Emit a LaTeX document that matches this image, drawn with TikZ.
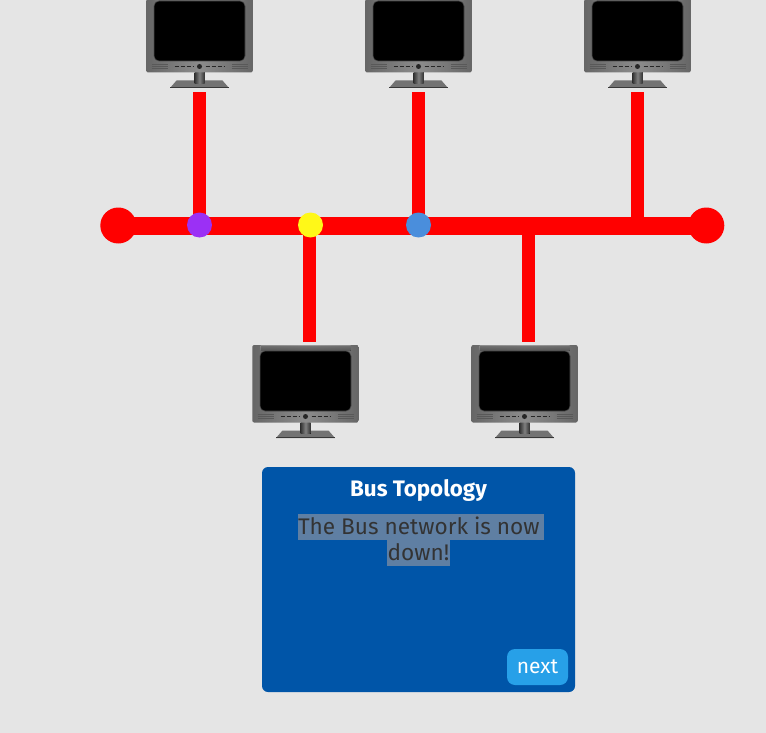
\documentclass[tikz,border=0pt]{standalone}
\usepackage{fontspec}
\setmainfont{Fira Sans}
\usetikzlibrary{positioning}
\definecolor{pagegrey}{HTML}{E5E5E5}
\definecolor{panelblue}{HTML}{0055A8}
\definecolor{nextblue}{HTML}{27A0E8}
\definecolor{marktext}{HTML}{5F7FA3}
\definecolor{darktext}{HTML}{333333}
\definecolor{stationpurple}{HTML}{9B30F5}
\definecolor{stationyellow}{HTML}{FFF818}
\definecolor{stationblue}{HTML}{4A8EDC}
\tikzset{
  wire/.style={draw=red,line width=13pt},
  trunk/.style={draw=red,line width=18pt},
  busend/.style={circle,fill=red,minimum size=36pt,inner sep=0pt},
  station/.style={circle,minimum size=25pt,inner sep=0pt},
  marked/.style={fill=marktext,text=darktext,inner ysep=0pt,inner xsep=0pt,minimum height=26pt,text height=20pt,text depth=6pt,font=\fontsize{22.6}{26}\selectfont},
  monitor/.pic={
    \fill[black!55] (-29.5,15.5) -- (-23,8) -- (23,8) -- (29.5,15.5) -- cycle;
    \fill[black!78] (-29.5,14.5) rectangle (29.5,15.5);
    \fill[left color=black!80,right color=black!80,middle color=black!50] (-5,0) rectangle (5,11);
    \node (-case) at (0,-38.75) [rounded corners=2pt,minimum width=106.5pt,minimum height=77.5pt,inner sep=0pt,
      left color=black!60,right color=black!60,middle color=black!45] {};
    \fill[top color=black!38,bottom color=black!55,opacity=.6] (-45,-77) rectangle (45,-72);
    \node (-screen) at (0,-41.5) [rounded corners=5pt,minimum width=91pt,minimum height=60pt,inner sep=0pt,fill=black,draw=black!70,line width=.6pt] {};
    \draw[black!85,line width=1.6pt,dash pattern=on 4.5pt off 1.5pt] (-25,-6) -- (-6,-6) (6,-6) -- (25,-6);
    \fill[black!85] (0,-6) circle (2.5pt);
    \draw[black!65,line width=.5pt] (-48,-8) -- (-32,-8) (-48,-6) -- (-32,-6) (-48,-4) -- (-32,-4) (32,-8) -- (48,-8) (32,-6) -- (48,-6) (32,-4) -- (48,-4);
    \coordinate (-foot) at (0,19.5);
    \coordinate (-head) at (0,-80.5);
  }
}
\begin{document}
\begin{tikzpicture}[x=1pt,y=-1pt]
\useasboundingbox (0,0) rectangle (766,733);
\clip (0,0) rectangle (766,733);
\fill[pagegrey] (0,0) rectangle (766,733);

% monitors
\pic (mon1) at (199.5,72.5) {monitor};
\pic (mon2) at (418.5,72.5) {monitor};
\pic (mon3) at (637.5,72.5) {monitor};
\pic (mon4) at (305.5,422.5) {monitor};
\pic (mon5) at (524.5,422.5) {monitor};

% the bus
\coordinate (tap1) at (199.5,225.5);
\coordinate (tap2) at (418.5,225.5);
\coordinate (tap3) at (637,225.5);
\coordinate (tap4) at (309.5,225.5);
\coordinate (tap5) at (528.5,225.5);
\node (endL) at (118.3,225.5)[busend] {};
\node (endR) at (706.3,225.5)[busend] {};
\draw [wire] (tap1) -- (tap1 |- mon1-foot);
\draw [wire] (tap2) -- (tap2 |- mon2-foot);
\draw [wire] (tap3) -- (tap3 |- mon3-foot);
\draw [wire] (tap4) -- (tap4 |- mon4-head);
\draw [wire] (tap5) -- (tap5 |- mon5-head);
\draw [trunk] (endL.center) -- (endR.center);
\node (dot1) at (199.5,225)[station,fill=stationpurple] {};
\node (dot2) at (310.5,225)[station,fill=stationyellow] {};
\node (dot3) at (418.5,225)[station,fill=stationblue] {};

% message box
\node (panel) at (418.5,579.5)[fill=panelblue,rounded corners=6pt,minimum width=313pt,minimum height=225pt,inner sep=0pt] {};
\node (title) at (418.5,490.5)[text=white,inner sep=0pt,font=\fontsize{22.4}{26}\selectfont\bfseries] {Bus Topology};
\node (line1) at (421,527)[marked] {\makebox[246pt][l]{The Bus network is now}};
\node (line2) at (418.5,553)[marked,minimum width=63pt] {down!};
\node (next) at (537.5,667)[fill=nextblue,rounded corners=8pt,minimum width=61pt,minimum height=36pt,inner sep=0pt,text=white,font=\fontsize{21}{24}\selectfont] {\raisebox{-1pt}{next}};
\end{tikzpicture}
\end{document}
